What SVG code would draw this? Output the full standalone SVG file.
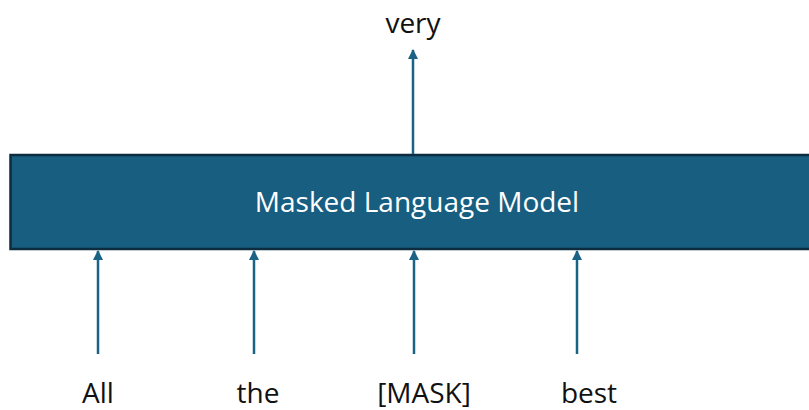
<svg xmlns="http://www.w3.org/2000/svg" width="809" height="410" viewBox="0 0 809 410">
  <style>
    .word { font-family: "Open Sans", "Liberation Sans", sans-serif; font-size: 28px; fill: #111111; text-anchor: middle; }
    .title { font-family: "Open Sans", "Liberation Sans", sans-serif; font-size: 28px; fill: #ffffff; text-anchor: middle; }
    .link { stroke: #1a6385; stroke-width: 2.5; fill: none; marker-end: url(#head); }
  </style>
  <defs>
    <marker id="head" viewBox="0 0 10 10" refX="9" refY="5" markerWidth="4.4" markerHeight="4" orient="auto" markerUnits="strokeWidth">
      <path d="M0,0 L10,5 L0,10 Z" fill="#1a6385"/>
    </marker>
  </defs>
  <rect width="809" height="410" fill="#ffffff"/>

  <g id="model">
    <rect x="10.5" y="155" width="810" height="94" fill="#175e80" stroke="#0d2c3f" stroke-width="2.5"/>
    <text class="title" x="417" y="212">Masked Language Model</text>
  </g>

  <g id="output-very">
    <text class="word" x="413" y="33">very</text>
  </g>
  <g id="input-all">
    <text class="word" x="98" y="403">All</text>
  </g>
  <g id="input-the">
    <text class="word" x="258" y="403">the</text>
  </g>
  <g id="input-mask">
    <text class="word" x="424" y="403">[MASK]</text>
  </g>
  <g id="input-best">
    <text class="word" x="589" y="403">best</text>
  </g>

  <g id="connectors">
    <line class="link" x1="413" y1="154" x2="413" y2="50"/>
    <line class="link" x1="98" y1="354" x2="98" y2="251"/>
    <line class="link" x1="254" y1="354" x2="254" y2="251"/>
    <line class="link" x1="414" y1="354" x2="414" y2="251"/>
    <line class="link" x1="577" y1="354" x2="577" y2="251"/>
  </g>
</svg>
